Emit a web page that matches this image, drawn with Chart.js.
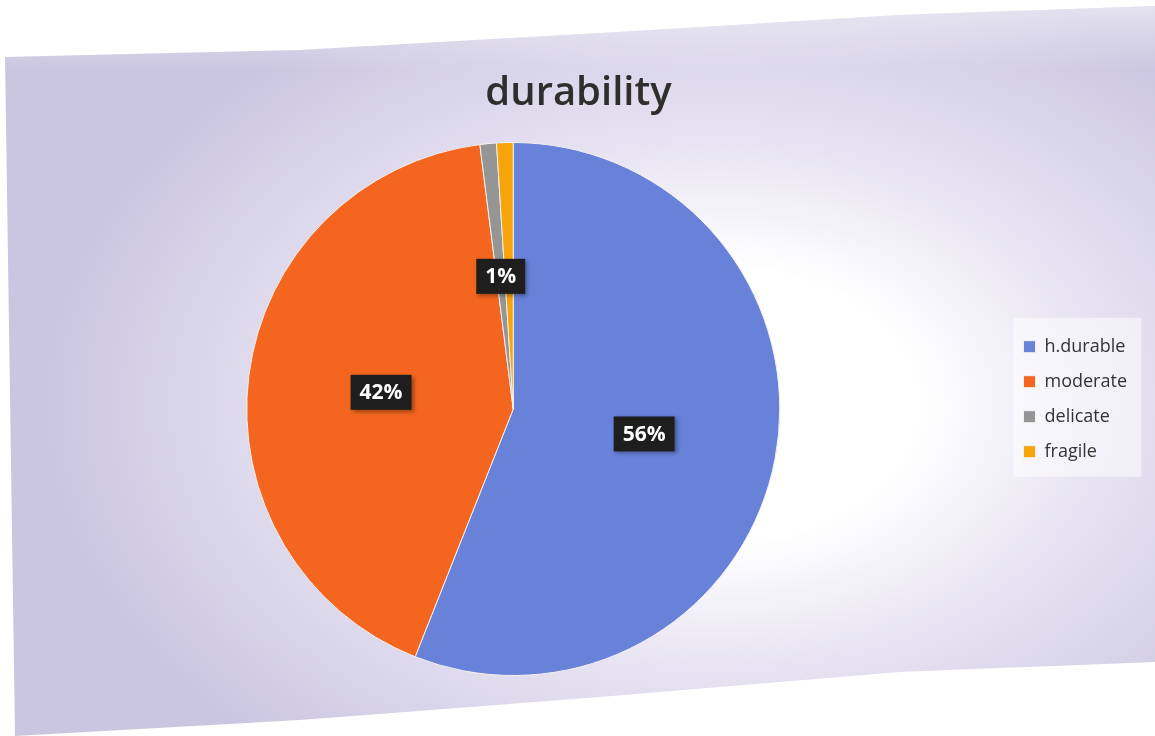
<!DOCTYPE html>
<html>
<head>
<meta charset="utf-8">
<script src="https://cdn.jsdelivr.net/npm/chart.js@4"></script>
<style>
  html, body { margin: 0; padding: 0; background: #ffffff; }
  body { width: 1155px; height: 736px; overflow: hidden; position: relative; }
  #paper {
    position: absolute; left: 0; top: 0; width: 1155px; height: 736px;
    background:
      linear-gradient(180deg, rgba(255,255,255,0.55) 0px, rgba(255,255,255,0) 70px),
      radial-gradient(ellipse 58% 62% at 62% 55%, #ffffff 30%, #e7e3f2 58%, #cbc6e0 100%);
    clip-path: polygon(5px 57px, 300px 50px, 600px 33px, 900px 15px, 1155px 6px,
                       1155px 662px, 900px 672px, 600px 697px, 300px 720px, 15px 736px);
  }
  #wrap { position: absolute; left: 0; top: 0; width: 1155px; height: 736px; }
</style>
</head>
<body>
<div id="paper"></div>
<div id="wrap"><canvas id="durChart"></canvas></div>
<script>
// categories and their shares (percent)
const categories = ['h.durable', 'moderate', 'delicate', 'fragile'];
const shares = [56, 42, 1, 1];
const sliceColors = ['#6882DA', '#F4661F', '#959595', '#F7A30A'];

// black boxes with white percent text, drawn at the middle of each slice
const pctLabels = {
  id: 'pctLabels',
  afterDatasetsDraw(chart) {
    const ctx = chart.ctx;
    const arcs = chart.getDatasetMeta(0).data;
    const total = shares.reduce((a, b) => a + b, 0);
    const placed = [];
    ctx.save();
    ctx.font = 'bold 21px "Open Sans", sans-serif';
    ctx.textAlign = 'center';
    ctx.textBaseline = 'middle';
    arcs.forEach((arc, i) => {
      const p = arc.getCenterPoint();
      const txt = Math.round(shares[i] / total * 100) + '%';
      const w = ctx.measureText(txt).width + 18, h = 35;
      const box = { x: p.x - w / 2, y: p.y - h / 2, w, h };
      // skip a label that would sit on one already drawn
      if (placed.some(b => box.x < b.x + b.w && b.x < box.x + box.w && box.y < b.y + b.h && b.y < box.y + box.h)) return;
      placed.push(box);
      ctx.shadowColor = 'rgba(0,0,0,0.35)';
      ctx.shadowBlur = 4;
      ctx.shadowOffsetX = 2;
      ctx.shadowOffsetY = 2;
      ctx.fillStyle = '#1e1e1e';
      ctx.fillRect(box.x, box.y, box.w, box.h);
      ctx.shadowColor = 'transparent';
      ctx.fillStyle = '#ffffff';
      ctx.fillText(txt, p.x, p.y + 1);
    });
    ctx.restore();
  }
};

// pale panel behind the legend items
const legendPanel = {
  id: 'legendPanel',
  beforeDraw(chart) {
    const lg = chart.legend;
    if (!lg || !lg.legendHitBoxes || !lg.legendHitBoxes.length) return;
    const hb = lg.legendHitBoxes;
    const top = Math.min(...hb.map(b => b.top)) - 20;
    const bottom = Math.max(...hb.map(b => b.top + b.height)) + 16;
    const ctx = chart.ctx;
    ctx.save();
    ctx.fillStyle = 'rgba(255,255,255,0.5)';
    ctx.fillRect(hb[0].left - 10, top, 128, bottom - top);
    ctx.restore();
  }
};

const ctx = document.getElementById('durChart').getContext('2d');
const chart = new Chart(ctx, {
  type: 'pie',
  data: {
    labels: categories,
    datasets: [{
      data: shares,
      backgroundColor: sliceColors,
      borderColor: '#f4f0f0',
      borderWidth: 1
    }]
  },
  options: {
    responsive: true,
    maintainAspectRatio: false,
    animation: false,
    layout: { padding: { left: 20, right: 18, top: 0, bottom: 60 } },
    plugins: {
      title: {
        display: true,
        text: 'durability',
        color: '#2e2e2e',
        font: { family: '"Open Sans", sans-serif', size: 40, weight: '600' },
        padding: { top: 70, bottom: 24 }
      },
      legend: {
        position: 'right',
        title: {
          display: true,
          text: ' ',
          font: { size: 12 },
          padding: { top: 100, bottom: 8 }
        },
        labels: {
          color: '#333333',
          font: { family: '"Open Sans", sans-serif', size: 18 },
          boxWidth: 12,
          boxHeight: 12,
          padding: 17
        }
      },
      tooltip: { enabled: false }
    }
  },
  plugins: [pctLabels, legendPanel]
});
</script>
</body>
</html>
